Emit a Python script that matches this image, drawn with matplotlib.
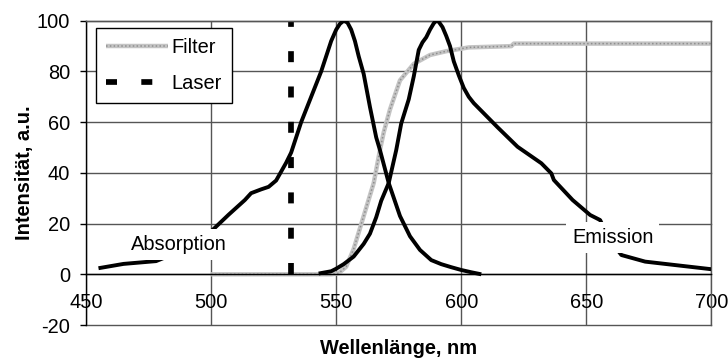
import matplotlib
matplotlib.use("Agg")
import matplotlib.pyplot as plt

# Absorptionsspektrum
abs_x = [455, 465, 478, 490, 498, 502, 507, 513.5, 516, 520, 523, 526, 528, 530,
         532, 534, 536, 538, 540, 542, 544, 546, 548, 550, 551.5, 553, 554.5,
         556, 557.5, 559, 561, 563.5, 566, 567.5, 571, 575.5, 579.5, 583.5, 588,
         592, 596, 600, 604, 608]
abs_y = [2.4, 4.1, 5.2, 10, 15, 18.8, 23.5, 29.3, 32, 33.5, 34.5, 37, 40.5, 44,
         48, 54, 60, 65, 70, 75, 80, 86, 92, 96.5, 98.8, 100, 99.3,
         96.5, 92, 86, 79, 66, 54, 49, 36, 23, 15, 9.6, 5.6,
         4, 2.8, 1.7, 0.8, 0]

# Emissionsspektrum
em_x = [543, 548, 550, 553, 557, 561, 563.5, 566, 568, 571, 574, 576, 579, 581,
        583, 584.5, 586, 587.5, 589, 590, 591, 592.5, 594, 595.5, 597, 599, 601,
        603, 605, 608, 610, 614.5, 622.5, 632, 636, 637, 644.5, 651.5, 655.5,
        659, 664, 673.5, 688.5, 700]
em_y = [0.3, 1.2, 2.2, 4, 7, 12, 16, 22.5, 29, 36, 49, 59.5, 69, 78,
        88.5, 91.5, 93.5, 96.5, 99, 100, 99.6, 97.5, 94, 90, 84, 78.5, 73.5,
        70, 67.5, 64.5, 62.5, 58, 50.3, 43.8, 39.8, 37.2, 29.3, 23.4, 21.4,
        14, 7.6, 5.0, 3.3, 2.0]

# Filterkurve
filt_x = [500, 548, 551, 554, 557, 561, 565, 567.5, 569, 571.5, 575.5, 581,
          587.5, 594, 603, 620, 621, 700]
filt_y = [0, 0, 0.4, 3, 10, 23, 36, 49, 56, 65, 76.5, 83,
          86.5, 88, 89.5, 90, 91, 91]

# Laser
laser_nm = 532
laser_y = [0, 100]

x_ticks = [450, 500, 550, 600, 650, 700]
y_ticks = [-20, 0, 20, 40, 60, 80, 100]

plt.rcParams['font.family'] = ['Liberation Sans', 'DejaVu Sans']
plt.rcParams['font.size'] = 14.4
plt.rcParams['axes.unicode_minus'] = False

fig = plt.figure(figsize=(7.28, 3.59), dpi=100)
ax = fig.add_axes([0.1181, 0.0947, 0.8592, 0.8474])

gridcol = '#555555'

f1, = ax.plot(filt_x, filt_y, color='#c4c4c4', lw=3.2, zorder=2,
              solid_capstyle='butt')
f2, = ax.plot(filt_x, filt_y, color='#8f8f8f', lw=1.1, zorder=2,
              dashes=(1, 1.5))
ax.plot(abs_x, abs_y, color='black', lw=2.8, zorder=3,
        solid_joinstyle='round', solid_capstyle='butt')
ax.plot(em_x, em_y, color='black', lw=2.8, zorder=3,
        solid_joinstyle='round', solid_capstyle='butt')
lz, = ax.plot([laser_nm, laser_nm], laser_y, color='black', lw=4.1,
              dashes=(1.93, 4.27), dash_capstyle='butt', zorder=2.5)

box = dict(boxstyle='square,pad=0.3', fc='white', ec='none')
ax.text(487, 11.9, 'Absorption', ha='center', va='center', bbox=box, zorder=4)
ax.text(660.5, 14.6, 'Emission', ha='center', va='center', bbox=box, zorder=4)

ax.set_xlim(450, 700)
ax.set_ylim(-20, 100)
ax.set_xticks(x_ticks)
ax.set_yticks(y_ticks)

ax.grid(True, color=gridcol, lw=1.0)
ax.set_axisbelow(True)
for gl in ax.get_ygridlines():
    gl.set_clip_on(False)

ax.spines['bottom'].set_position(('data', 0))
ax.spines['bottom'].set_color('black')
ax.spines['left'].set_color('black')
ax.spines['top'].set_color(gridcol)
ax.spines['right'].set_color(gridcol)
for s in ax.spines.values():
    s.set_linewidth(1.0)

ax.tick_params(axis='x', length=0, pad=13.5)
ax.tick_params(axis='y', length=4.3, width=1, pad=7, direction='out')

ax.set_xlabel('Wellenlänge, nm', fontweight='bold')
ax.set_ylabel('Intensität, a.u.', fontweight='bold')
ax.xaxis.set_label_coords(0.5, -0.046)
ax.yaxis.set_label_coords(-0.083, 0.5)

leg = ax.legend([(f1, f2), lz], ['Filter', 'Laser'], loc='upper left',
                bbox_to_anchor=(0.016, 0.975), borderaxespad=0,
                handlelength=3.08, handletextpad=0.2, borderpad=0.5,
                labelspacing=0.85, fancybox=False, framealpha=1,
                edgecolor='black')
leg.get_frame().set_linewidth(1.0)
leg.set_zorder(5)

plt.savefig('out.png', dpi=100)
